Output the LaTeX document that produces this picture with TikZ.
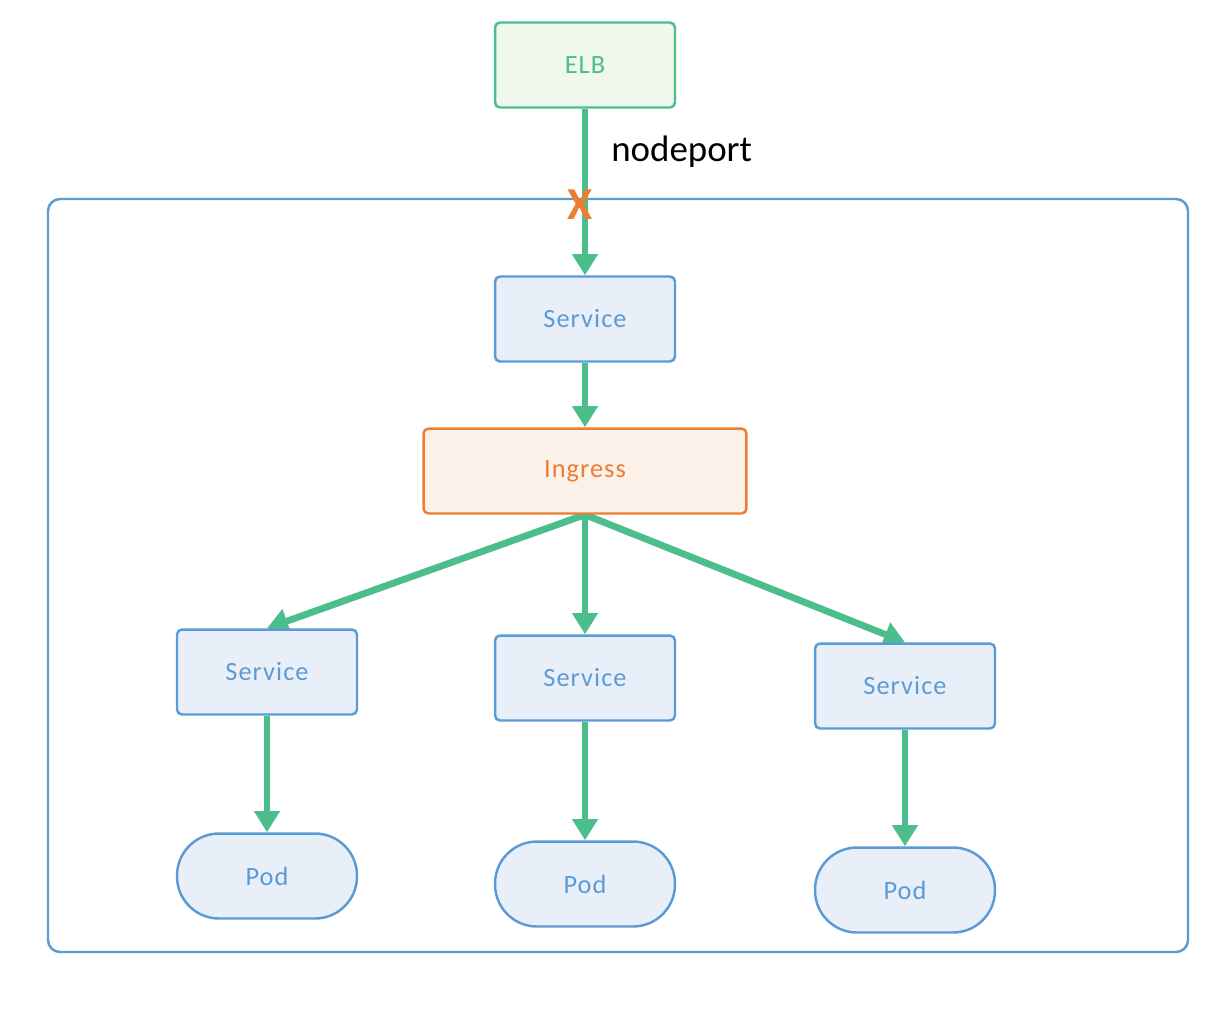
\documentclass[tikz,border=0pt]{standalone}
\usepackage{fontspec}
\setmainfont{Carlito}
\usepackage{xcolor}
\usetikzlibrary{arrows.meta,backgrounds}
\pgfdeclarelayer{edgelayer}
\pgfdeclarelayer{nodelayer}
\pgfsetlayers{background,edgelayer,nodelayer,main}
\definecolor{elbgreen}{RGB}{76,190,140}
\definecolor{elbfill}{RGB}{240,247,236}
\definecolor{svcblue}{RGB}{91,155,213}
\definecolor{svcfill}{RGB}{233,239,248}
\definecolor{ingorange}{RGB}{237,125,49}
\definecolor{ingfill}{RGB}{252,241,232}
\tikzstyle{none}=[inner sep=0mm]
\tikzstyle{box}=[rectangle,rounded corners=0.1cm,line width=1.4pt,minimum width=3.6cm,minimum height=1.7cm,font=\fontsize{15}{18}\selectfont\addfontfeatures{LetterSpace=4}]
\tikzstyle{elb}=[box,draw=elbgreen,fill=elbfill,text=elbgreen]
\tikzstyle{svc}=[box,draw=svcblue,fill=svcfill,text=svcblue]
\tikzstyle{pod}=[svc,rounded corners=0.84cm]
\tikzstyle{ing}=[box,draw=ingorange,fill=ingfill,text=ingorange,minimum width=6.46cm]
\tikzstyle{flow}=[draw=elbgreen,line width=3.9pt,-{Triangle[length=12pt,width=14pt]}]
\tikzstyle{cluster}=[draw=svcblue,line width=1.4pt,rounded corners=0.24cm]
\begin{document}
\begin{tikzpicture}[x=0.02cm,y=-0.02cm]
	\useasboundingbox (0,0) rectangle (1214,1012);
	\begin{pgfonlayer}{background}
		\draw[cluster] (48,199) rectangle (1188,952);
	\end{pgfonlayer}
	\begin{pgfonlayer}{nodelayer}
		\node [style=elb] (0) at (585,65) {ELB};
		\node [style=svc] (1) at (585,319) {Service};
		\node [style=ing] (2) at (585,471) {Ingress};
		\node [style=svc] (3) at (267,672) {Service};
		\node [style=svc] (4) at (585,678) {Service};
		\node [style=svc] (5) at (905,686) {Service};
		\node [style=pod] (6) at (267,876) {Pod};
		\node [style=pod] (7) at (585,884) {Pod};
		\node [style=pod] (8) at (905,890) {Pod};
		\node [style=none, anchor=west] (9) at (611,152) {\fontsize{21}{25}\selectfont nodeport};
		\node [style=none, text=ingorange] (10) at (580,205) {\fontsize{26}{30}\selectfont\bfseries X};
	\end{pgfonlayer}
	\begin{pgfonlayer}{edgelayer}
		\draw[style=flow] (0) to (1);
		\draw[style=flow] (1) to (2);
		\draw[style=flow] (2.south) to (3.north);
		\draw[style=flow] (2) to (4);
		\draw[style=flow] (2.south) to (5.north);
		\draw[style=flow] (3) to (6);
		\draw[style=flow] (4) to (7);
		\draw[style=flow] (5) to (8);
	\end{pgfonlayer}
\end{tikzpicture}
\end{document}
